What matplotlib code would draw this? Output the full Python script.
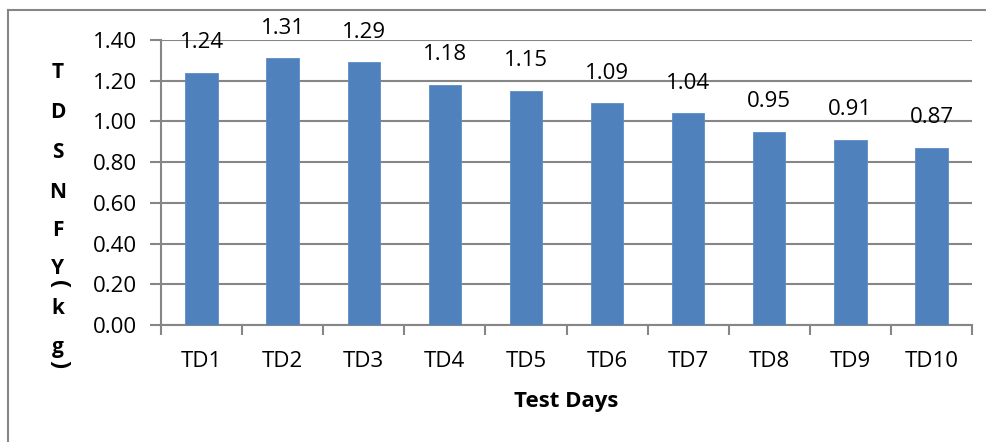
import numpy as np
import matplotlib.pyplot as plt
from matplotlib.lines import Line2D

# data
days = ['TD1', 'TD2', 'TD3', 'TD4', 'TD5', 'TD6', 'TD7', 'TD8', 'TD9', 'TD10']
tdsnfy = [1.24, 1.31, 1.29, 1.18, 1.15, 1.09, 1.04, 0.95, 0.91, 0.87]
y_ticks = [0.0, 0.2, 0.4, 0.6, 0.8, 1.0, 1.2, 1.4]
ylabel_chars = ['T', 'D', 'S', 'N', 'F', 'Y', '(', 'k', 'g', ')']

plt.rcParams['font.family'] = ['Open Sans', 'DejaVu Sans']

W, H = 987, 442
fig = plt.figure(figsize=(W / 100, H / 100), dpi=100)
ax = fig.add_axes([161 / W, 1 - 325 / H, (972 - 161) / W, (325 - 40) / H])

grey = '#868686'
x = np.arange(len(days))
ax.bar(x, tdsnfy, width=0.4, color='#4F81BD', edgecolor='#5B8CC6', linewidth=0.6, zorder=3)

for xi, v in zip(x, tdsnfy):
    ax.annotate(f'{v:.2f}', (xi, v), xytext=(0, 14), textcoords='offset points',
                ha='center', va='bottom', fontsize=16, color='black', zorder=4)

ax.set_xlim(-0.5, len(days) - 0.5)
ax.set_ylim(0, 1.4)
ax.set_yticks(y_ticks)
ax.set_yticklabels([f'{t:.2f}' for t in y_ticks], fontsize=16)
ax.set_xticks(x)
ax.set_xticklabels(days, fontsize=16)
ax.set_xticks(np.arange(len(days) + 1) - 0.5, minor=True)
ax.tick_params(axis='x', which='major', length=0, pad=19)
ax.tick_params(axis='x', which='minor', length=7, width=1.5, color=grey, direction='out')
ax.tick_params(axis='y', length=8, width=1.5, color=grey, direction='out', pad=9)

ax.yaxis.grid(True, color=grey, linewidth=1.5, zorder=0)
ax.set_axisbelow(True)
for side in ['top', 'right']:
    ax.spines[side].set_visible(False)
for side in ['left', 'bottom']:
    ax.spines[side].set_color(grey)
    ax.spines[side].set_linewidth(1.5)

fig.text(566 / W, 1 - 401 / H, 'Test Days', ha='center', va='center',
         fontsize=16, fontweight='bold')

# stacked y label
ylab_y = [73, 112, 152, 192, 230, 268, 284, 308, 347, 364]
for ch, py in zip(ylabel_chars, ylab_y):
    if ch in '()':
        fig.text(58 / W, 1 - py / H, ch, ha='center', va='center', rotation=-90,
                 fontsize=17, fontweight='bold')
    else:
        fig.text(58 / W, 1 - py / H, ch, ha='center', va='center',
                 fontsize=15, fontweight='bold')

# chart border (left and top visible)
fig.add_artist(Line2D([8 / W, 8 / W], [0, 1 - 10 / H], color=grey, linewidth=1.5))
fig.add_artist(Line2D([8 / W, 1], [1 - 10 / H, 1 - 10 / H], color=grey, linewidth=1.5))

fig.savefig('out.png', dpi=100)
